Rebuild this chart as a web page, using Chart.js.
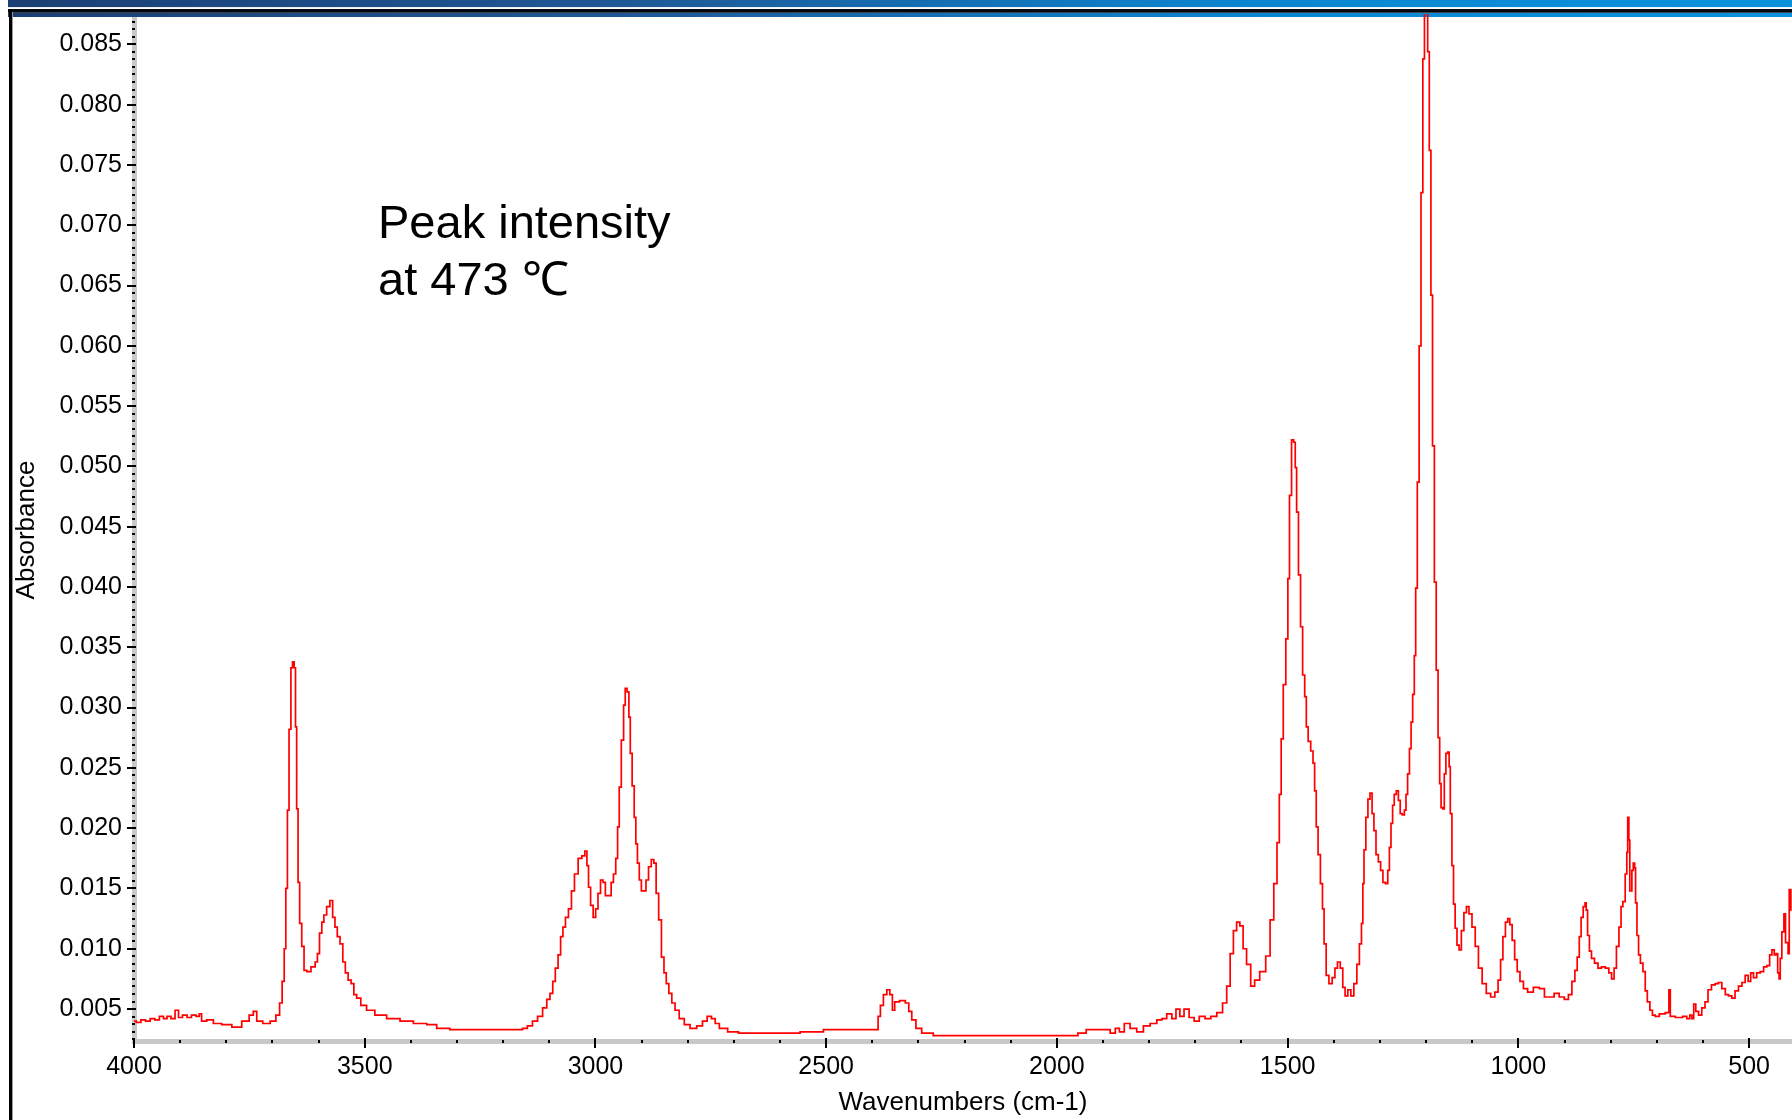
<!DOCTYPE html>
<html>
<head>
<meta charset="utf-8">
<title>Absorbance spectrum</title>
<script src="https://cdn.jsdelivr.net/npm/chart.js@4.4.1/dist/chart.umd.min.js"></script>
<style>
	html, body { margin: 0; padding: 0; background: #fff; }
	#wrap { position: relative; width: 1792px; height: 1120px; overflow: hidden; }
	#note {
		position: absolute; left: 378px; top: 193px;
		font: 47px/57px "Liberation Sans", Arial, sans-serif; color: #000; white-space: nowrap;
	}
</style>
</head>
<body>
<div id="wrap">
	<canvas id="spec" width="1792" height="1120"></canvas>
	<div id="note">Peak intensity<br>at 473 ℃</div>
</div>
<script>
// ── Data ──────────────────────────────────────────────────────────────────
var wavenumbers = [
	4000, 3990, 3980, 3970, 3960, 3950, 3940, 3932, 3925, 3915,
	3907, 3900, 3890, 3880, 3871, 3860, 3857, 3850, 3835, 3821,
	3799, 3777, 3756, 3745, 3738, 3730, 3712, 3698, 3687, 3682,
	3676, 3673, 3669, 3666, 3662, 3658, 3655, 3651, 3649, 3646,
	3643, 3639, 3634, 3629, 3622, 3611, 3604, 3601, 3595, 3591,
	3586, 3579, 3572, 3567, 3562, 3557, 3550, 3545, 3539, 3533,
	3526, 3521, 3514, 3503, 3489, 3467, 3438, 3409, 3380, 3351,
	3337, 3294, 3250, 3207, 3163, 3153, 3142, 3131, 3120, 3109,
	3102, 3095, 3090, 3084, 3078, 3073, 3068, 3062, 3055, 3049,
	3042, 3033, 3026, 3020, 3017, 3013, 3008, 3002, 2997, 2992,
	2986, 2981, 2976, 2968, 2964, 2958, 2954, 2950, 2947, 2941,
	2937, 2934, 2929, 2926, 2923, 2918, 2914, 2911, 2907, 2903,
	2898, 2893, 2888, 2882, 2876, 2871, 2866, 2860, 2854, 2849,
	2844, 2838, 2831, 2824, 2813, 2802, 2788, 2773, 2763, 2753,
	2744, 2737, 2726, 2701, 2679, 2658, 2600, 2513, 2499, 2412,
	2390, 2385, 2380, 2372, 2365, 2359, 2354, 2349, 2333, 2324,
	2318, 2311, 2300, 2286, 2250, 2080, 2000, 1964, 1945, 1928,
	1892, 1877, 1870, 1859, 1849, 1834, 1820, 1805, 1791, 1776,
	1769, 1755, 1747, 1737, 1730, 1719, 1708, 1697, 1686, 1672,
	1661, 1646, 1636, 1628, 1621, 1614, 1607, 1600, 1593, 1585,
	1575, 1568, 1553, 1542, 1534, 1526, 1520, 1516, 1512, 1507,
	1501, 1498, 1494, 1489, 1485, 1482, 1479, 1474, 1470, 1465,
	1461, 1458, 1453, 1447, 1443, 1440, 1436, 1432, 1426, 1423,
	1419, 1414, 1407, 1400, 1395, 1389, 1383, 1378, 1373, 1366,
	1360, 1353, 1347, 1342, 1338, 1336, 1333, 1328, 1324, 1319,
	1315, 1311, 1306, 1301, 1296, 1291, 1285, 1281, 1278, 1274,
	1271, 1267, 1262, 1258, 1254, 1249, 1245, 1242, 1238, 1234,
	1231, 1227, 1224, 1221, 1217, 1213, 1209, 1205, 1202, 1198,
	1195, 1191, 1188, 1184, 1180, 1176, 1172, 1169, 1166, 1162,
	1159, 1155, 1151, 1149, 1146, 1142, 1139, 1135, 1131, 1126,
	1121, 1115, 1110, 1104, 1097, 1090, 1083, 1074, 1065, 1055,
	1047, 1041, 1036, 1031, 1025, 1021, 1016, 1011, 1005, 1000,
	993, 985, 975, 960, 949, 938, 928, 917, 906, 895,
	888, 880, 875, 870, 866, 862, 857, 854, 852, 848,
	844, 839, 831, 824, 816, 807, 801, 795, 790, 785,
	779, 776, 771, 766, 764, 762, 759, 758, 755, 753,
	749, 747, 745, 741, 738, 733, 727, 723, 718, 712,
	707, 700, 689, 674, 673.5, 671, 670.5, 649, 639, 631,
	626, 622, 618, 613, 606, 599, 592, 586, 577, 570,
	563, 555, 548, 541, 534, 527, 519, 512, 505, 499,
	494, 487, 480, 472, 465, 458, 453, 448, 443, 440,
	436, 434, 431, 427, 422, 420, 416, 415, 411, 408
];

var absorbance = [
	0.0040, 0.0039, 0.0041, 0.0040, 0.0042, 0.0041, 0.0044, 0.0042, 0.0044, 0.0042,
	0.0049, 0.0043, 0.0045, 0.0043, 0.0045, 0.0044, 0.0046, 0.0040, 0.0041, 0.0038,
	0.0037, 0.0035, 0.0040, 0.0045, 0.0048, 0.0040, 0.0038, 0.0040, 0.0045, 0.0055,
	0.0073, 0.0100, 0.0150, 0.0215, 0.0282, 0.0333, 0.0338, 0.0333, 0.0284, 0.0216,
	0.0155, 0.0121, 0.0102, 0.0082, 0.0081, 0.0085, 0.0089, 0.0096, 0.0113, 0.0122,
	0.0128, 0.0135, 0.0140, 0.0126, 0.0118, 0.0110, 0.0104, 0.0089, 0.0080, 0.0074,
	0.0071, 0.0062, 0.0059, 0.0053, 0.0049, 0.0045, 0.0042, 0.0040, 0.0038, 0.0037,
	0.0034, 0.0033, 0.0033, 0.0033, 0.0033, 0.0034, 0.0036, 0.0040, 0.0044, 0.0051,
	0.0058, 0.0063, 0.0073, 0.0084, 0.0095, 0.0110, 0.0118, 0.0126, 0.0133, 0.0148,
	0.0162, 0.0175, 0.0177, 0.0181, 0.0169, 0.0151, 0.0136, 0.0126, 0.0133, 0.0146,
	0.0157, 0.0155, 0.0144, 0.0144, 0.0155, 0.0162, 0.0175, 0.0201, 0.0234, 0.0273,
	0.0302, 0.0316, 0.0313, 0.0292, 0.0262, 0.0235, 0.0209, 0.0187, 0.0171, 0.0157,
	0.0148, 0.0148, 0.0157, 0.0168, 0.0174, 0.0171, 0.0146, 0.0124, 0.0093, 0.0080,
	0.0071, 0.0063, 0.0055, 0.0049, 0.0042, 0.0037, 0.0034, 0.0036, 0.0040, 0.0044,
	0.0042, 0.0038, 0.0034, 0.0031, 0.0030, 0.0030, 0.0030, 0.0031, 0.0033, 0.0033,
	0.0033, 0.0044, 0.0053, 0.0062, 0.0066, 0.0062, 0.0049, 0.0056, 0.0057, 0.0055,
	0.0048, 0.0041, 0.0034, 0.0030, 0.0028, 0.0028, 0.0028, 0.0028, 0.0030, 0.0033,
	0.0033, 0.0030, 0.0034, 0.0031, 0.0038, 0.0034, 0.0031, 0.0036, 0.0038, 0.0041,
	0.0042, 0.0046, 0.0042, 0.0050, 0.0044, 0.0050, 0.0043, 0.0040, 0.0044, 0.0042,
	0.0044, 0.0047, 0.0055, 0.0069, 0.0096, 0.0115, 0.0122, 0.0119, 0.0100, 0.0087,
	0.0069, 0.0074, 0.0081, 0.0094, 0.0124, 0.0154, 0.0188, 0.0228, 0.0274, 0.0319,
	0.0357, 0.0407, 0.0476, 0.0522, 0.0520, 0.0499, 0.0462, 0.0410, 0.0367, 0.0327,
	0.0309, 0.0284, 0.0272, 0.0264, 0.0254, 0.0231, 0.0201, 0.0178, 0.0154, 0.0133,
	0.0104, 0.0078, 0.0071, 0.0076, 0.0084, 0.0089, 0.0084, 0.0068, 0.0061, 0.0066,
	0.0061, 0.0071, 0.0087, 0.0104, 0.0121, 0.0154, 0.0182, 0.0209, 0.0224, 0.0229,
	0.0212, 0.0198, 0.0178, 0.0172, 0.0165, 0.0155, 0.0154, 0.0165, 0.0184, 0.0204,
	0.0219, 0.0228, 0.0231, 0.0223, 0.0212, 0.0211, 0.0215, 0.0228, 0.0245, 0.0266,
	0.0288, 0.0311, 0.0343, 0.0399, 0.0487, 0.0600, 0.0727, 0.0838, 0.0920, 0.0900,
	0.0844, 0.0762, 0.0642, 0.0517, 0.0404, 0.0331, 0.0275, 0.0237, 0.0217, 0.0216,
	0.0245, 0.0262, 0.0263, 0.0251, 0.0212, 0.0169, 0.0137, 0.0117, 0.0103, 0.0099,
	0.0115, 0.0130, 0.0135, 0.0129, 0.0118, 0.0102, 0.0084, 0.0071, 0.0063, 0.0060,
	0.0064, 0.0074, 0.0091, 0.0110, 0.0122, 0.0125, 0.0120, 0.0107, 0.0091, 0.0081,
	0.0073, 0.0067, 0.0064, 0.0068, 0.0067, 0.0060, 0.0060, 0.0063, 0.0060, 0.0058,
	0.0062, 0.0073, 0.0082, 0.0093, 0.0110, 0.0126, 0.0135, 0.0138, 0.0132, 0.0111,
	0.0098, 0.0092, 0.0088, 0.0084, 0.0085, 0.0084, 0.0080, 0.0075, 0.0084, 0.0102,
	0.0118, 0.0135, 0.0139, 0.0162, 0.0180, 0.0209, 0.0190, 0.0148, 0.0148, 0.0165,
	0.0171, 0.0167, 0.0138, 0.0111, 0.0095, 0.0088, 0.0081, 0.0065, 0.0056, 0.0049,
	0.0045, 0.0044, 0.0046, 0.0047, 0.0066, 0.0066, 0.0044, 0.0043, 0.0044, 0.0042,
	0.0045, 0.0042, 0.0054, 0.0048, 0.0045, 0.0051, 0.0056, 0.0066, 0.0070, 0.0071,
	0.0072, 0.0067, 0.0062, 0.0061, 0.0059, 0.0065, 0.0069, 0.0072, 0.0078, 0.0073,
	0.0080, 0.0076, 0.0080, 0.0081, 0.0085, 0.0086, 0.0095, 0.0099, 0.0095, 0.0096,
	0.0080, 0.0075, 0.0092, 0.0114, 0.0129, 0.0105, 0.0105, 0.0096, 0.0149, 0.0132
];

var xTicks = [4000, 3500, 3000, 2500, 2000, 1500, 1000, 500];
var yTicks = [0.005, 0.010, 0.015, 0.020, 0.025, 0.030, 0.035, 0.040, 0.045,
	0.050, 0.055, 0.060, 0.065, 0.070, 0.075, 0.080, 0.085];
var xMinorStep = 100;
var yMinorStep = 0.000625;

var FONT = '"Liberation Sans", Arial, sans-serif';

// ── Frame: window header, left border, ruler ticks on the axis bars ─────────
function headerGradient(ctx, w) {
	var g = ctx.createLinearGradient(0, 0, w, 0);
	g.addColorStop(0, "#1b3f74");
	g.addColorStop(0.35, "#1f5896");
	g.addColorStop(0.7, "#0b86d0");
	g.addColorStop(1, "#0c92dc");
	return g;
}

var frame = {
	id: "frame",
	beforeDatasetsDraw: function (chart) {
		var ctx = chart.ctx;
		ctx.save();
		ctx.fillStyle = headerGradient(ctx, chart.width);
		ctx.fillRect(8, 12.7, chart.width, 4.3);
		ctx.restore();
	},
	afterDraw: function (chart) {
		var ctx = chart.ctx, a = chart.chartArea;
		var xs = chart.scales.x, ys = chart.scales.y;
		ctx.save();
		ctx.fillStyle = "#000";

		// x ruler
		for (var v = xs.max; v >= xs.min; v -= xMinorStep) {
			var px = Math.round(xs.getPixelForValue(v));
			if (xTicks.indexOf(v) >= 0) ctx.fillRect(px - 1, a.bottom - 3, 2, 10);
			else ctx.fillRect(px - 1, a.bottom - 1, 2, 3);
		}
		// y ruler
		for (var k = 0; ; k++) {
			var val = 0.005 + (k - 4) * yMinorStep;
			if (val > ys.max) break;
			if (val < ys.min) continue;
			var py = Math.round(ys.getPixelForValue(val));
			if (k % 8 === 4) ctx.fillRect(a.left - 7, py - 1, 9, 2);
			else ctx.fillRect(a.left - 2, py - 1, 3, 2);
		}

		// header bar
		ctx.fillStyle = headerGradient(ctx, chart.width);
		ctx.fillRect(8, 0, chart.width, 7.3);
		ctx.fillStyle = "#fff";
		ctx.fillRect(8, 7.3, chart.width, 1.7);
		ctx.fillStyle = "#05090f";
		ctx.fillRect(8, 9, chart.width, 3.7);

		// left window border
		ctx.fillStyle = "#000";
		ctx.fillRect(9, 9, 3, chart.height);
		ctx.fillStyle = "#9a9a9a";
		ctx.fillRect(12, 12, 1, chart.height);
		ctx.restore();
	}
};

var points = wavenumbers.map(function (w, i) {
	return { x: w, y: absorbance[i] };
});

new Chart(document.getElementById("spec"), {
	type: "line",
	data: {
		datasets: [{
			data: points,
			borderColor: "#ff0000",
			borderWidth: 1.7,
			pointRadius: 0,
			tension: 0,
			stepped: "middle",
			fill: false,
			clip: { left: 0, top: 5, right: 0, bottom: 0 }
		}]
	},
	options: {
		responsive: false,
		animation: false,
		devicePixelRatio: 1,
		layout: { padding: { top: 17, left: 0, right: 0, bottom: 0 } },
		plugins: { legend: { display: false }, tooltip: { enabled: false } },
		scales: {
			x: {
				type: "linear",
				reverse: true,
				min: 407,
				max: 4000,
				afterFit: function (s) { s.height = 79; },
				afterBuildTicks: function (s) {
					s.ticks = xTicks.map(function (v) { return { value: v }; });
				},
				ticks: {
					font: { family: FONT, size: 25 },
					color: "#000",
					padding: 3,
					maxRotation: 0,
					autoSkip: false,
					callback: function (v) { return String(v); }
				},
				grid: { drawOnChartArea: false, drawTicks: true, tickLength: 8, tickColor: "rgba(0,0,0,0)" },
				border: { color: "#c8c8c8", width: 5 },
				title: {
					display: true,
					text: "Wavenumbers (cm-1)",
					font: { family: FONT, size: 26 },
					color: "#000",
					padding: { top: 0, bottom: 2 }
				}
			},
			y: {
				min: 0.00235,
				max: 0.0871,
				afterFit: function (s) { s.width = 134; },
				afterBuildTicks: function (s) {
					s.ticks = yTicks.map(function (v) { return { value: v }; });
				},
				ticks: {
					font: { family: FONT, size: 25 },
					color: "#000",
					padding: 4,
					autoSkip: false,
					callback: function (v) { return Number(v).toFixed(3); }
				},
				grid: { drawOnChartArea: false, drawTicks: true, tickLength: 8, tickColor: "rgba(0,0,0,0)" },
				border: { color: "#c8c8c8", width: 5 },
				title: {
					display: true,
					text: "Absorbance",
					font: { family: FONT, size: 26 },
					color: "#000",
					padding: { top: 11, bottom: 0 }
				}
			}
		}
	},
	plugins: [frame]
});
</script>
</body>
</html>
